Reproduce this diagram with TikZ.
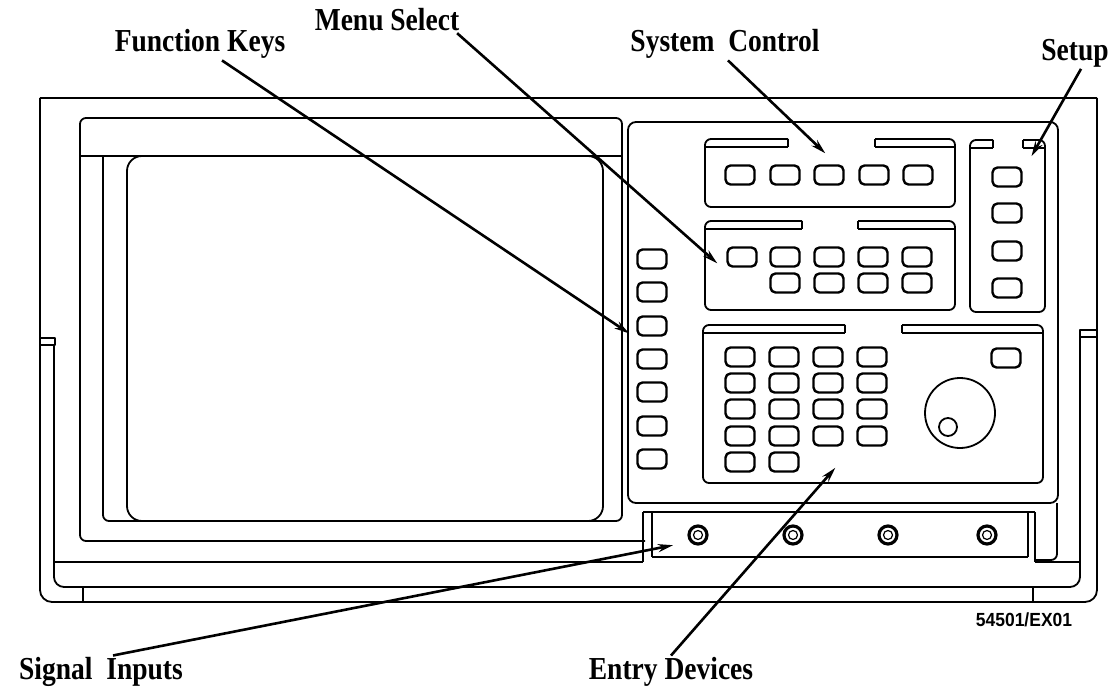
\documentclass[tikz,border=0pt]{standalone}
\usepackage{fontspec}
\setmainfont{Liberation Serif}
\newfontfamily\calloutfont[FakeStretch=0.86]{Liberation Serif}
\newfontfamily\tagfont[FakeStretch=0.92]{Liberation Sans}
\usetikzlibrary{arrows.meta, positioning}
\tikzstyle{frontpanel}=[x=1pt, y=-1pt, line width=1.8pt, line join=round, >={Stealth[length=15pt,width=8pt]}]
\tikzstyle{callout}=[font=\calloutfont\bfseries\fontsize{32}{32}\selectfont, inner sep=1pt]
\tikzstyle{key}=[draw, rectangle, rounded corners=5pt, minimum width=29pt, minimum height=19pt, inner sep=0pt, line width=2.4pt]
\tikzstyle{pointer}=[->, line width=2.6pt, shorten >=1pt]
\newcommand{\tabpanel}[6]{%
  \draw (#5,#2) -- (#5,#2-8);
  \draw[rounded corners=6pt] (#5,#2-8) -- (#1,#2-8) -- (#1,#4) -- (#3,#4) -- (#3,#2-8) -- (#6,#2-8);
  \draw (#6,#2-8) -- (#6,#2);
  \draw (#1,#2) -- (#5,#2) (#6,#2) -- (#3,#2);}

\begin{document}
\begin{tikzpicture}[frontpanel]
  \useasboundingbox (0,0) rectangle (1118,695);

  % chassis and handles
  \draw (40,98) -- (1097,98);
  \draw[rounded corners=12pt] (40,98) -- (40,602) -- (1097,602) -- (1097,98);
  \draw (40,338) rectangle (55,345);
  \draw (1080,337) rectangle (1097,330);
  \draw[rounded corners=10pt] (54,345) -- (54,587) -- (1080,587) -- (1080,337);
  \draw (54,562) -- (643,562) (1035,562) -- (1080,562);
  \draw (83,587) -- (83,602) (1033,587) -- (1033,602);

  % display
  \draw[rounded corners=6pt] (103,156) -- (103,521) -- (622,521) -- (622,118) -- (80,118) -- (80,541) -- (645,541);
  \draw (80,156) -- (622,156);
  \draw[rounded corners=15pt] (127,156) rectangle (603,521);

  % front panel
  \draw[rounded corners=8pt] (628,122) rectangle (1058,503);
  \draw[rounded corners=6pt] (1057,503) -- (1057,560) -- (1035,560);
  \tabpanel{705}{147}{955}{207}{788}{875}
  \tabpanel{705}{229}{955}{310}{802}{858}
  \tabpanel{970}{148}{1045}{312}{993}{1023}
  \tabpanel{703}{333}{1043}{483}{845}{902}

  \foreach \y in {259,292,326,359,392,426,459}
    \node[key] at (652,\y) {};
  \foreach \x in {740,785,829,874,918}
    \node[key] at (\x,175) {};
  \foreach \x in {742,785,829,873,917}
    \node[key] at (\x,257) {};
  \foreach \x in {785,829,873,917}
    \node[key] at (\x,283) {};
  \foreach \y in {177,213,251,288}
    \node[key] at (1007,\y) {};
  \foreach \y in {357,383,409,436}
    \foreach \x in {740,784,828,872}
      \node[key] at (\x,\y) {};
  \foreach \x in {740,784}
    \node[key] at (\x,462) {};
  \node[key] at (1006,358) {};
  \draw (960,413) circle (35pt);
  \draw (948,427) circle (9pt);

  % input bar
  \draw (643,512) -- (1035,512) (652,557) -- (1028,557);
  \draw (643,512) -- (643,562) (652,512) -- (652,557);
  \draw (1028,512) -- (1028,557) (1035,512) -- (1035,562);
  \foreach \x in {698,793,888,987} {
    \draw[line width=3.2pt] (\x,535) circle (9pt);
    \draw[line width=1.2pt] (\x,535) circle (4.5pt);
  }

  % callouts
  \node[callout] (fkeys) at (200,44) {Function Keys};
  \node[callout] (menusel) at (387,20) {Menu Select};
  \node[callout] (sysctl) at (725,44) {System\ \ Control};
  \node[callout] (setup) at (1075,53) {Setup};
  \node[callout] (siginputs) at (101,672) {Signal\ \ Inputs};
  \node[callout] (entry) at (671,672) {Entry Devices};
  \node[font=\tagfont\bfseries\fontsize{19}{19}\selectfont, inner sep=0pt] (figtag) at (1024,620) {54501/EX01};

  \coordinate (fkeystip) at (630,334);
  \coordinate (menutip) at (718,264);
  \coordinate (systip) at (826,154);
  \coordinate (setuptip) at (1031,157);
  \coordinate (signaltip) at (674,545);
  \coordinate (entrytip) at (836,467);

  \path[pointer] ([xshift=22pt]fkeys.south) edge (fkeystip);
  \path[pointer] ([xshift=-4pt]menusel.south east) edge (menutip);
  \path[pointer] ([xshift=3pt]sysctl.south) edge (systip);
  \path[pointer] ([xshift=6pt]setup.south) edge (setuptip);
  \path[pointer] ([xshift=12pt]siginputs.north) edge (signaltip);
  \path[pointer] (entry.north) edge (entrytip);
\end{tikzpicture}
\end{document}
